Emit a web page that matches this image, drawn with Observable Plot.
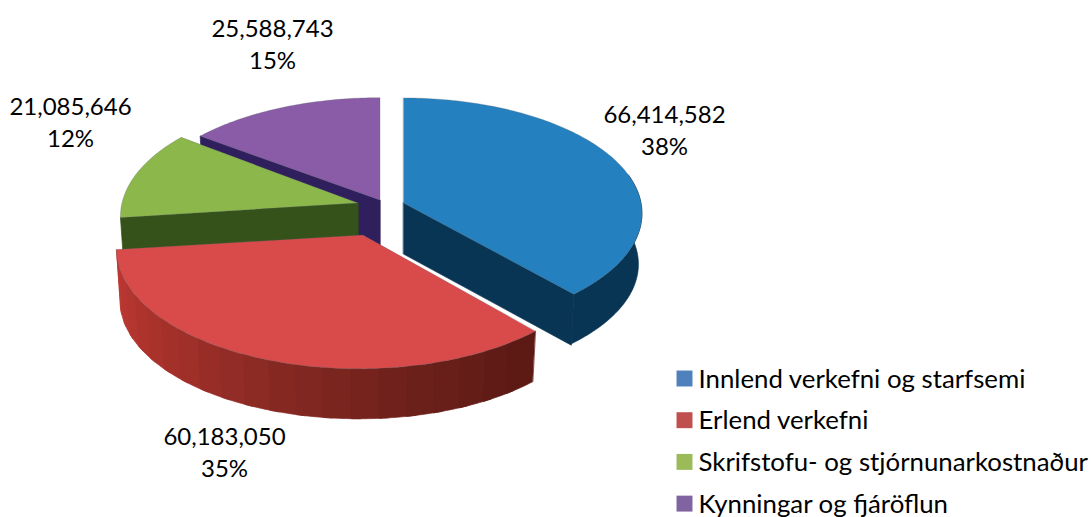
<!DOCTYPE html>
<html><head><meta charset="utf-8">
<style>html,body{margin:0;padding:0;background:#fff}svg{display:block}</style>
<script src="https://cdn.jsdelivr.net/npm/d3@7"></script>
<script src="https://cdn.jsdelivr.net/npm/@observablehq/plot@0.6"></script>
</head><body><script>
const categories = ["Innlend verkefni og starfsemi","Erlend verkefni","Skrifstofu- og stjórnunarkostnaður","Kynningar og fjáröflun"];
const values = [66414582,60183050,21085646,25588743];
const valueLabels = ["66,414,582","60,183,050","21,085,646","25,588,743"];
const percentLabels = ["38%","35%","12%","15%"];
const legendColors = ["#4f81bd","#c0504d","#9bbb59","#8064a2"];
const topColors = ["#2480bf","#d94b4a","#8cb74a","#8a5ba6"];
const wallColors = ["#093554","#8f2a25","#35521a","#2f1f5c"];

// Exploded-slice placement and tilt of the 3D view
const W = 1091, H = 517;
const view = [
  {cx:403.5, cy:203, R:237.5, a:114.5, k:0.09,  depth:51, shift:0},
  {cx:363,   cy:235, R:241,   a:118.5, k:0.114, depth:52, shift:-4},
  {cx:358,   cy:203, R:236,   a:117,   k:0.114, depth:51, shift:0},
  {cx:380,   cy:200, R:240,   a:114,   k:0.114, depth:51, shift:0}
];
const labelAt = [[664,128],[224,450],[70,120],[272,42]];

const pie = d3.pie().sort(null)(values);
const project = (v, t, f = 1) => {
  const X = Math.sin(t), Y = -Math.cos(t), s = 1 / (1 - v.k * Y);
  return [v.cx + v.shift + f * v.R * X * s, v.cy + f * v.a * Y * s];
};
const arc = (v, a0, a1, f, dy = 0) => {
  const n = Math.max(2, Math.ceil((a1 - a0) / (Math.PI / 180)));
  return d3.range(n + 1).map(i => {
    const [x, y] = project(v, a0 + (a1 - a0) * i / n, f);
    return [x, y + dy];
  });
};
// A filled band between two polylines of equal length
const band = (top, bot) => top.map((p, i) => ({x1:p[0], y1:p[1], x2:bot[i][0], y2:bot[i][1]}));
const bandX = (top, bot, fill, extra = {}) => Plot.area(band(top, bot), {
  x1:"x1", y1:"y1", x2:"x2", y2:"y2", fill, stroke:fill, strokeWidth:0.7, curve:"linear", ...extra
});
const wedge = i => {
  const v = view[i], p = pie[i], pts = arc(v, p.startAngle, p.endAngle, 1);
  return bandX(pts.map(() => [v.cx, v.cy]), pts, topColors[i], {stroke:"#55606a", strokeOpacity:0.4, strokeWidth:0.7});
};
const cutFace = (i, angle) => {
  const v = view[i], tip = project(v, angle, 1);
  const top = [[v.cx, v.cy], tip];
  const bot = [[v.cx, v.cy + v.depth], [tip[0] - 0.015 * (tip[0] - v.cx), tip[1] + v.depth]];
  return bandX(top, bot, wallColors[i]);
};
// Outer wall: one plain band, or overlapping shaded strips running left to right
const rim = (i, a0, a1) => {
  const v = view[i];
  return bandX(arc(v, a0, a1, 1), arc(v, a0, a1, 0.985, v.depth), wallColors[i]);
};
const shadedRim = (i, a0, a1, colorAt) => {
  const v = view[i], step = Math.PI / 30;
  const n = Math.ceil((a1 - a0) / step), out = [];
  for (let j = 0; j < n; ++j) {
    const s0 = a0 + (a1 - a0) * j / n;
    const s1 = Math.min(a1, a0 + (a1 - a0) * (j + 1) / n + Math.PI / 90);
    out.push(bandX(arc(v, s0, s1, 1), arc(v, s0, s1, 0.985, v.depth), colorAt((j + 0.5) / n)));
  }
  return out.reverse();
};
const redShade = d3.scaleLinear().domain([0, 0.25, 0.5, 0.75, 1]).range(["#5b1914","#6f211b","#8c2a24","#ab322c","#c23a35"]);

const marks = [
  // purple (back), then green, blue and the red slice in front
  cutFace(3, pie[3].startAngle),
  wedge(3),
  cutFace(2, pie[2].startAngle),
  wedge(2),
  rim(0, Math.PI * 0.42, pie[0].endAngle),
  cutFace(0, pie[0].endAngle),
  wedge(0),
  shadedRim(1, pie[1].startAngle, pie[1].endAngle, redShade),
  wedge(1),
  Plot.text(categories.map((c, i) => i), {
    x: i => labelAt[i][0], y: i => labelAt[i][1],
    text: i => valueLabels[i] + "\n" + percentLabels[i],
    fontFamily:"Lato", fontSize:24, lineHeight:1.34, fill:"#000", textAnchor:"middle"
  }),
  Plot.dot(categories, {x: () => 684, y: (d, i) => 378 + 41.7 * i, symbol:"square", r:9,
    fill: (d, i) => legendColors[i], stroke:null}),
  Plot.text(categories, {x: () => 698, y: (d, i) => 379 + 41.7 * i, text: d => d,
    fontFamily:"Lato", fontSize:25.8, fill:"#000", textAnchor:"start"})
];

document.body.append(Plot.plot({
  width:W, height:H, margin:0,
  x:{domain:[0,W], range:[0,W], axis:null},
  y:{domain:[0,H], range:[0,H], axis:null},
  style:{background:"#fff"},
  marks
}));
</script></body></html>
